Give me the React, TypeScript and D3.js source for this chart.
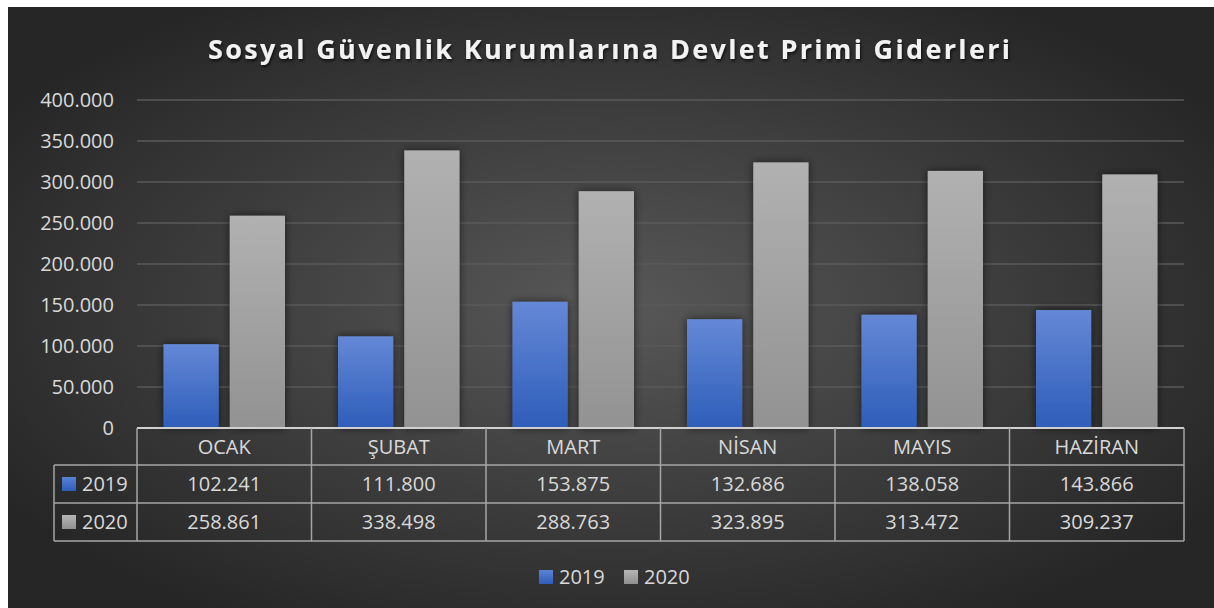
import React from "react";
import * as d3 from "d3";

const title = "Sosyal Güvenlik Kurumlarına Devlet Primi Giderleri";
const months = ["OCAK", "ŞUBAT", "MART", "NİSAN", "MAYIS", "HAZİRAN"];
const seriesNames = ["2019", "2020"];
const values2019 = [102241, 111800, 153875, 132686, 138058, 143866];
const values2020 = [258861, 338498, 288763, 323895, 313472, 309237];
const yTicks = [0, 50000, 100000, 150000, 200000, 250000, 300000, 350000, 400000];

const W = 1206;
const H = 601;
const FONT = "'Open Sans', 'Noto Sans', sans-serif";
const TEXT = "#d9d9d9";

const locale = d3.formatLocale({ decimal: ",", thousands: ".", grouping: [3], currency: ["", "₺"] });
const fmt = locale.format(",d");

export default function App() {
  const plotLeft = 129;
  const plotRight = 1176;
  const plotTop = 93;
  const plotBottom = 421;

  const y = d3.scaleLinear().domain([0, 400000]).range([plotBottom, plotTop]);
  const x0 = d3.scaleBand<string>().domain(months).range([plotLeft, plotRight]).padding(0);
  const x1 = d3
    .scaleBand<string>()
    .domain(seriesNames)
    .range([0, x0.bandwidth()])
    .paddingInner(0.167)
    .paddingOuter(0.4);

  const series = [
    { name: "2019", values: values2019, fill: "url(#gBlue)", key: "url(#gBlueKey)" },
    { name: "2020", values: values2020, fill: "url(#gGray)", key: "url(#gGrayKey)" },
  ];

  const rowTop = plotBottom;
  const rowH = [37, 38, 38];
  const rowY = [rowTop, rowTop + rowH[0], rowTop + rowH[0] + rowH[1], rowTop + rowH[0] + rowH[1] + rowH[2]];
  const tableLeft = 46;
  const border = "#a6a6a6";

  return (
    <svg
      width={W}
      height={H}
      style={{ position: "absolute", left: 8, top: 7, display: "block" }}
      fontFamily={FONT}
    >
      <defs>
        <radialGradient id="bg" cx="50%" cy="50%" r="60%" fx="50%" fy="50%">
          <stop offset="0%" stopColor="#585858" />
          <stop offset="100%" stopColor="#262626" />
        </radialGradient>
        <linearGradient id="gBlue" x1="0" y1="0" x2="0" y2="1">
          <stop offset="0%" stopColor="#6488d6" />
          <stop offset="100%" stopColor="#2e5db9" />
        </linearGradient>
        <linearGradient id="gGray" x1="0" y1="0" x2="0" y2="1">
          <stop offset="0%" stopColor="#b1b1b1" />
          <stop offset="100%" stopColor="#929292" />
        </linearGradient>
        <linearGradient id="gBlueKey" x1="0" y1="0" x2="0" y2="1">
          <stop offset="0%" stopColor="#5b82d4" />
          <stop offset="100%" stopColor="#2e5db9" />
        </linearGradient>
        <linearGradient id="gGrayKey" x1="0" y1="0" x2="0" y2="1">
          <stop offset="0%" stopColor="#b5b5b5" />
          <stop offset="100%" stopColor="#8f8f8f" />
        </linearGradient>
        <filter id="barShadow" x="-30%" y="-10%" width="160%" height="120%">
          <feGaussianBlur in="SourceAlpha" stdDeviation="4" />
          <feOffset dx="0" dy="0" result="b" />
          <feComponentTransfer>
            <feFuncA type="linear" slope="0.6" />
          </feComponentTransfer>
          <feMerge>
            <feMergeNode />
            <feMergeNode in="SourceGraphic" />
          </feMerge>
        </filter>
        <filter id="titleShadow" x="-5%" y="-30%" width="110%" height="160%">
          <feDropShadow dx="1" dy="2" stdDeviation="1.5" floodColor="#000" floodOpacity="0.7" />
        </filter>
      </defs>

      <rect x={0} y={0} width={W} height={H} fill="url(#bg)" />

      <text
        x={601}
        y={52}
        textAnchor="middle"
        fill="#f2f2f2"
        fontSize={27}
        fontWeight="bold"
        textLength={802}
        lengthAdjust="spacing"
        filter="url(#titleShadow)"
      >
        {title}
      </text>

      {/* gridlines */}
      {yTicks.map((t) => (
        <line key={"g" + t} x1={plotLeft} x2={plotRight} y1={y(t)} y2={y(t)} stroke="#5a5a5a" strokeWidth={1.5} />
      ))}

      {/* y tick labels */}
      {yTicks.map((t) => (
        <text key={"t" + t} x={106} y={y(t)} dy="0.36em" textAnchor="end" fill={TEXT} fontSize={20}>
          {fmt(t)}
        </text>
      ))}

      {/* bars */}
      {months.map((m, i) => (
        <g key={m} transform={`translate(${x0(m)},0)`}>
          {series.map((s) => (
            <rect
              key={s.name}
              x={x1(s.name)}
              y={y(s.values[i])}
              width={x1.bandwidth()}
              height={plotBottom - y(s.values[i])}
              fill={s.fill}
              filter="url(#barShadow)"
            />
          ))}
        </g>
      ))}

      {/* data table */}
      <g stroke={border} strokeWidth={1.5} fill="none">
        <line x1={plotLeft} x2={plotRight} y1={rowY[0]} y2={rowY[0]} stroke="#d0d0d0" strokeWidth={2} />
        {[1, 2, 3].map((r) => (
          <line key={"r" + r} x1={tableLeft} x2={plotRight} y1={rowY[r]} y2={rowY[r]} />
        ))}
        <line x1={tableLeft} x2={tableLeft} y1={rowY[1]} y2={rowY[3]} />
        {months.map((m) => (
          <line key={"c" + m} x1={x0(m)} x2={x0(m)} y1={rowY[0]} y2={rowY[3]} />
        ))}
        <line x1={plotRight} x2={plotRight} y1={rowY[0]} y2={rowY[3]} />
      </g>

      {months.map((m) => (
        <text
          key={"m" + m}
          x={(x0(m) as number) + x0.bandwidth() / 2}
          y={(rowY[0] + rowY[1]) / 2}
          dy="0.36em"
          textAnchor="middle"
          fill={TEXT}
          fontSize={20}
        >
          {m}
        </text>
      ))}

      {series.map((s, si) => (
        <g key={"row" + s.name}>
          <rect x={54} y={(rowY[si + 1] + rowY[si + 2]) / 2 - 7} width={14} height={14} fill={s.key} />
          <text x={74} y={(rowY[si + 1] + rowY[si + 2]) / 2} dy="0.36em" fill={TEXT} fontSize={20}>
            {s.name}
          </text>
          {months.map((m, i) => (
            <text
              key={m}
              x={(x0(m) as number) + x0.bandwidth() / 2}
              y={(rowY[si + 1] + rowY[si + 2]) / 2}
              dy="0.36em"
              textAnchor="middle"
              fill={TEXT}
              fontSize={20}
            >
              {fmt(s.values[i])}
            </text>
          ))}
        </g>
      ))}

      {/* legend */}
      {series.map((s, si) => (
        <g key={"lg" + s.name} transform={`translate(${531 + si * 85},0)`}>
          <rect x={0} y={563} width={14} height={14} fill={s.key} />
          <text x={20} y={570} dy="0.36em" fill={TEXT} fontSize={20}>
            {s.name}
          </text>
        </g>
      ))}
    </svg>
  );
}
